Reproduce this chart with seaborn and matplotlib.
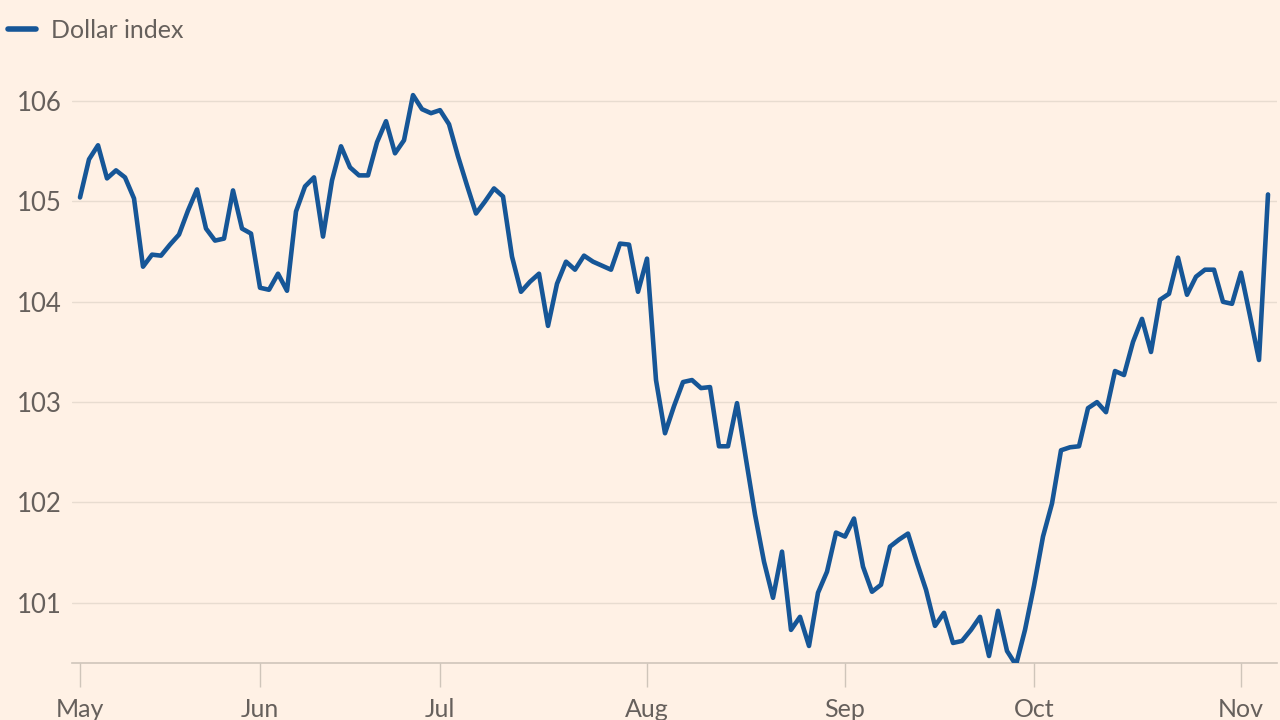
import matplotlib
matplotlib.use("Agg")
import matplotlib.pyplot as plt
import seaborn as sns
import pandas as pd

# Dollar index, one value per trading day (May -> 6 Nov)
dollar_index = [
    105.04, 105.42, 105.56, 105.23, 105.31, 105.24, 105.03, 104.35, 104.47, 104.46,
    104.57, 104.67, 104.91, 105.12, 104.73, 104.61, 104.63, 105.11, 104.73, 104.68,
    104.14, 104.12, 104.28, 104.11, 104.90, 105.15, 105.24, 104.65, 105.21, 105.55,
    105.34, 105.26, 105.26, 105.59, 105.80, 105.48, 105.61, 106.06, 105.92, 105.88,
    105.91, 105.77, 105.45, 105.16, 104.88, 105.00, 105.13, 105.05, 104.45, 104.10,
    104.20, 104.28, 103.76, 104.18, 104.40, 104.32, 104.46, 104.40, 104.36, 104.32,
    104.58, 104.57, 104.10, 104.43, 103.22, 102.69, 102.96, 103.20, 103.22, 103.14,
    103.15, 102.56, 102.56, 102.99, 102.43, 101.88, 101.41, 101.05, 101.51, 100.73,
    100.86, 100.57, 101.10, 101.31, 101.70, 101.66, 101.84, 101.36, 101.11, 101.18,
    101.56, 101.63, 101.69, 101.40, 101.13, 100.77, 100.90, 100.60, 100.62, 100.73,
    100.86, 100.47, 100.92, 100.52, 100.38, 100.73, 101.17, 101.66, 101.99, 102.52,
    102.55, 102.56, 102.94, 103.00, 102.90, 103.31, 103.27, 103.60, 103.83, 103.50,
    104.02, 104.08, 104.44, 104.07, 104.25, 104.32, 104.32, 104.00, 103.98, 104.29,
    103.86, 103.42, 105.07,
]
trading_day = list(range(len(dollar_index)))

month_tick_positions = [0, 20, 40, 63, 85, 106, 129]
month_labels = ["May", "Jun", "Jul", "Aug", "Sep", "Oct", "Nov"]

y_ticks = [101, 102, 103, 104, 105, 106]
y_labels = ["101", "102", "103", "104", "105", "106"]

series_name = "Dollar index"

BG = "#FFF1E5"
LINE = "#165697"
GRID = "#E8DCD0"
AXIS = "#CFC5BA"
TEXT = "#66605C"

sns.set_theme(style="white")
plt.rcParams["font.family"] = ["Lato", "DejaVu Sans"]

df = pd.DataFrame({"day": trading_day, "value": dollar_index, "series": series_name})

fig = plt.figure(figsize=(12.8, 7.2), dpi=100, facecolor=BG)
ax = fig.add_axes([72 / 1280, 1 - 663 / 720, (1277 - 72) / 1280, (663 - 61) / 720])
ax.set_facecolor(BG)

sns.lineplot(data=df, x="day", y="value", hue="series", palette=[LINE],
             linewidth=3.3, ax=ax, legend=True)

ax.set_xlim(-0.89, 133.0)
ax.set_ylim(100.4, 106.4)

ax.set_yticks(y_ticks)
ax.set_yticklabels(y_labels)
ax.set_xticks(month_tick_positions)
ax.set_xticklabels(month_labels)
ax.set_xlabel("")
ax.set_ylabel("")

for s in ["top", "right", "left"]:
    ax.spines[s].set_visible(False)
ax.spines["bottom"].set_color(AXIS)
ax.spines["bottom"].set_linewidth(1.2)
ax.spines["bottom"].set_zorder(1)

ax.yaxis.grid(True, color=GRID, linewidth=1.0)
ax.xaxis.grid(False)
ax.set_axisbelow(True)

ax.tick_params(axis="y", length=0, pad=39.6, labelsize=18.5, labelcolor=TEXT)
for lab in ax.get_yticklabels():
    lab.set_horizontalalignment("left")
ax.tick_params(axis="x", length=17.5, width=1.0, color=AXIS, pad=7.5,
               labelsize=18, labelcolor=TEXT, bottom=True)

leg = ax.legend(loc="center left", bbox_to_anchor=(8 / 1280, 1 - 30 / 720),
                bbox_transform=fig.transFigure, frameon=False,
                handlelength=1.1, handletextpad=0.62, fontsize=18,
                borderaxespad=0, borderpad=0)
for t in leg.get_texts():
    t.set_color(TEXT)
for h in leg.get_lines():
    h.set_linewidth(4.0)

fig.savefig("out.png", dpi=100, facecolor=BG)
